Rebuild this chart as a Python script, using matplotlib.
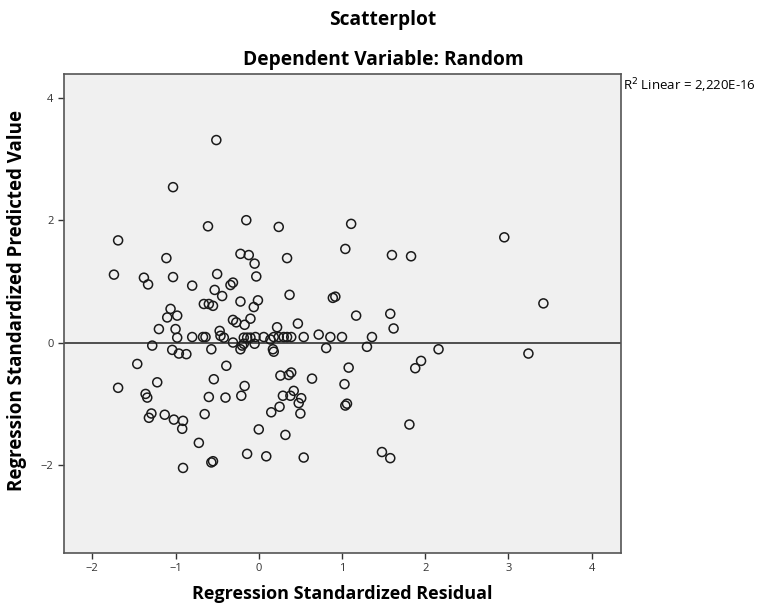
import matplotlib.pyplot as plt

# Regression standardized residual (x) and predicted value (y)
resid = [-0.51, -1.03, -0.61, -0.15, -1.69, 0.24, 1.11, 2.95,
         -1.11, -0.22, -0.12, -0.05, -0.03, -1.74, -1.38, -1.33, -1.03, -0.80,
         -0.50, -0.53, -0.44, -0.34, -0.31, -0.22, -0.01, -0.06, -0.66, -0.60,
         -0.55, -1.06, -1.10, -0.98, -1.20, -1.00, -0.98, -0.80, -0.67, -0.64,
         -0.47, -0.46, -0.42, -0.31, -0.27, -0.10, -0.17, -0.18, -0.14, -0.10,
         -0.04, -0.31, -1.28, -0.57, -0.20,
         1.04, 1.60, 1.83, 0.34, 0.37, 0.89, 0.92, 1.17, 1.58, 1.62, 0.47, 0.22,
         0.06, 0.18, 0.24, 0.30, 0.34, 0.39, 0.14, 0.54, 0.72, 0.86, 1.00, 1.36,
         0.81, 1.30, 2.16, 0.17, 3.42, 3.24,
         -1.04, -0.96, -0.87, -0.22, -0.18, -0.05, -1.46, -0.39, -1.22, -0.54,
         -0.17, -1.69, -1.36, -1.34, -0.60, -0.40, -0.21, -1.29, -1.32, -1.13,
         -1.02, -0.91, -0.92, -0.65, 0.00, -0.72, -0.14, -0.57, -0.55, -0.91,
         0.18, 1.95, 1.88, 1.08, 0.26, 0.36, 0.39, 0.64, 1.03, 0.42, 0.29, 0.38,
         0.51, 0.48, 0.25, 0.15, 0.50, 1.04, 1.06, 0.32, 1.81, 0.09, 0.54, 1.48,
         1.58]
pred = [3.31, 2.54, 1.90, 2.00, 1.67, 1.89, 1.94, 1.72,
        1.38, 1.45, 1.43, 1.29, 1.08, 1.11, 1.06, 0.95, 1.07, 0.93,
        1.12, 0.86, 0.76, 0.94, 0.98, 0.67, 0.69, 0.58, 0.63, 0.63,
        0.60, 0.55, 0.41, 0.44, 0.22, 0.22, 0.08, 0.09, 0.09, 0.09,
        0.19, 0.11, 0.08, 0.37, 0.33, 0.39, 0.29, 0.08, 0.08, 0.08,
        0.09, 0.00, -0.05, -0.11, -0.05,
        1.53, 1.43, 1.41, 1.38, 0.78, 0.73, 0.75, 0.44, 0.47, 0.23, 0.31, 0.25,
        0.09, 0.09, 0.09, 0.09, 0.09, 0.09, 0.05, 0.09, 0.13, 0.09, 0.09, 0.09,
        -0.09, -0.07, -0.11, -0.11, 0.64, -0.18,
        -0.12, -0.18, -0.19, -0.11, -0.02, -0.02, -0.35, -0.38, -0.65, -0.60,
        -0.71, -0.74, -0.84, -0.90, -0.89, -0.90, -0.87, -1.16, -1.23, -1.18,
        -1.26, -1.28, -1.41, -1.17, -1.42, -1.64, -1.82, -1.96, -1.94, -2.05,
        -0.15, -0.30, -0.42, -0.41, -0.54, -0.53, -0.49, -0.59, -0.68, -0.79,
        -0.87, -0.87, -0.91, -0.99, -1.05, -1.14, -1.16, -1.03, -1.00, -1.51,
        -1.34, -1.86, -1.88, -1.79, -1.89]

xticks = [-2, -1, 0, 1, 2, 3, 4]
yticks = [-2, 0, 2, 4]

plt.rcParams["font.family"] = ["Open Sans", "DejaVu Sans"]

fig = plt.figure(figsize=(7.76, 6.05), dpi=100)
ax = fig.add_axes([0.0825, 0.086, 0.7175, 0.7917])
ax.set_facecolor("#f0f0f0")

ax.scatter(resid, pred, s=42, facecolors="none", edgecolors="#1a1a1a", linewidths=1.1, zorder=3)
ax.axhline(0, color="#222222", linewidth=1.1, zorder=2)

ax.set_xlim(-2.34, 4.35)
ax.set_ylim(-3.44, 4.39)
ax.set_xticks(xticks)
ax.set_yticks(yticks)
ax.tick_params(direction="out", length=4, width=1, labelsize=8, colors="#333333")
for s in ax.spines.values():
    s.set_color("#555555")
    s.set_linewidth(1.2)

ax.set_xlabel("Regression Standardized Residual", fontsize=13, fontweight="bold", labelpad=8)
ax.set_ylabel("Regression Standardized Predicted Value", fontsize=13.5, fontweight="bold")
ax.yaxis.set_label_coords(-0.066, 0.528)

fig.text(383 / 776, 1 - 20 / 605, "Scatterplot", ha="center", va="center",
         fontsize=13.8, fontweight="bold")
fig.text(383 / 776, 1 - 60 / 605, "Dependent Variable: Random", ha="center",
         va="center", fontsize=13.8, fontweight="bold")
fig.text(623 / 776, 1 - 86 / 605, "R$^2$ Linear = 2,220E-16", ha="left", va="center", fontsize=9.5)

fig.savefig("out.png", dpi=100)
